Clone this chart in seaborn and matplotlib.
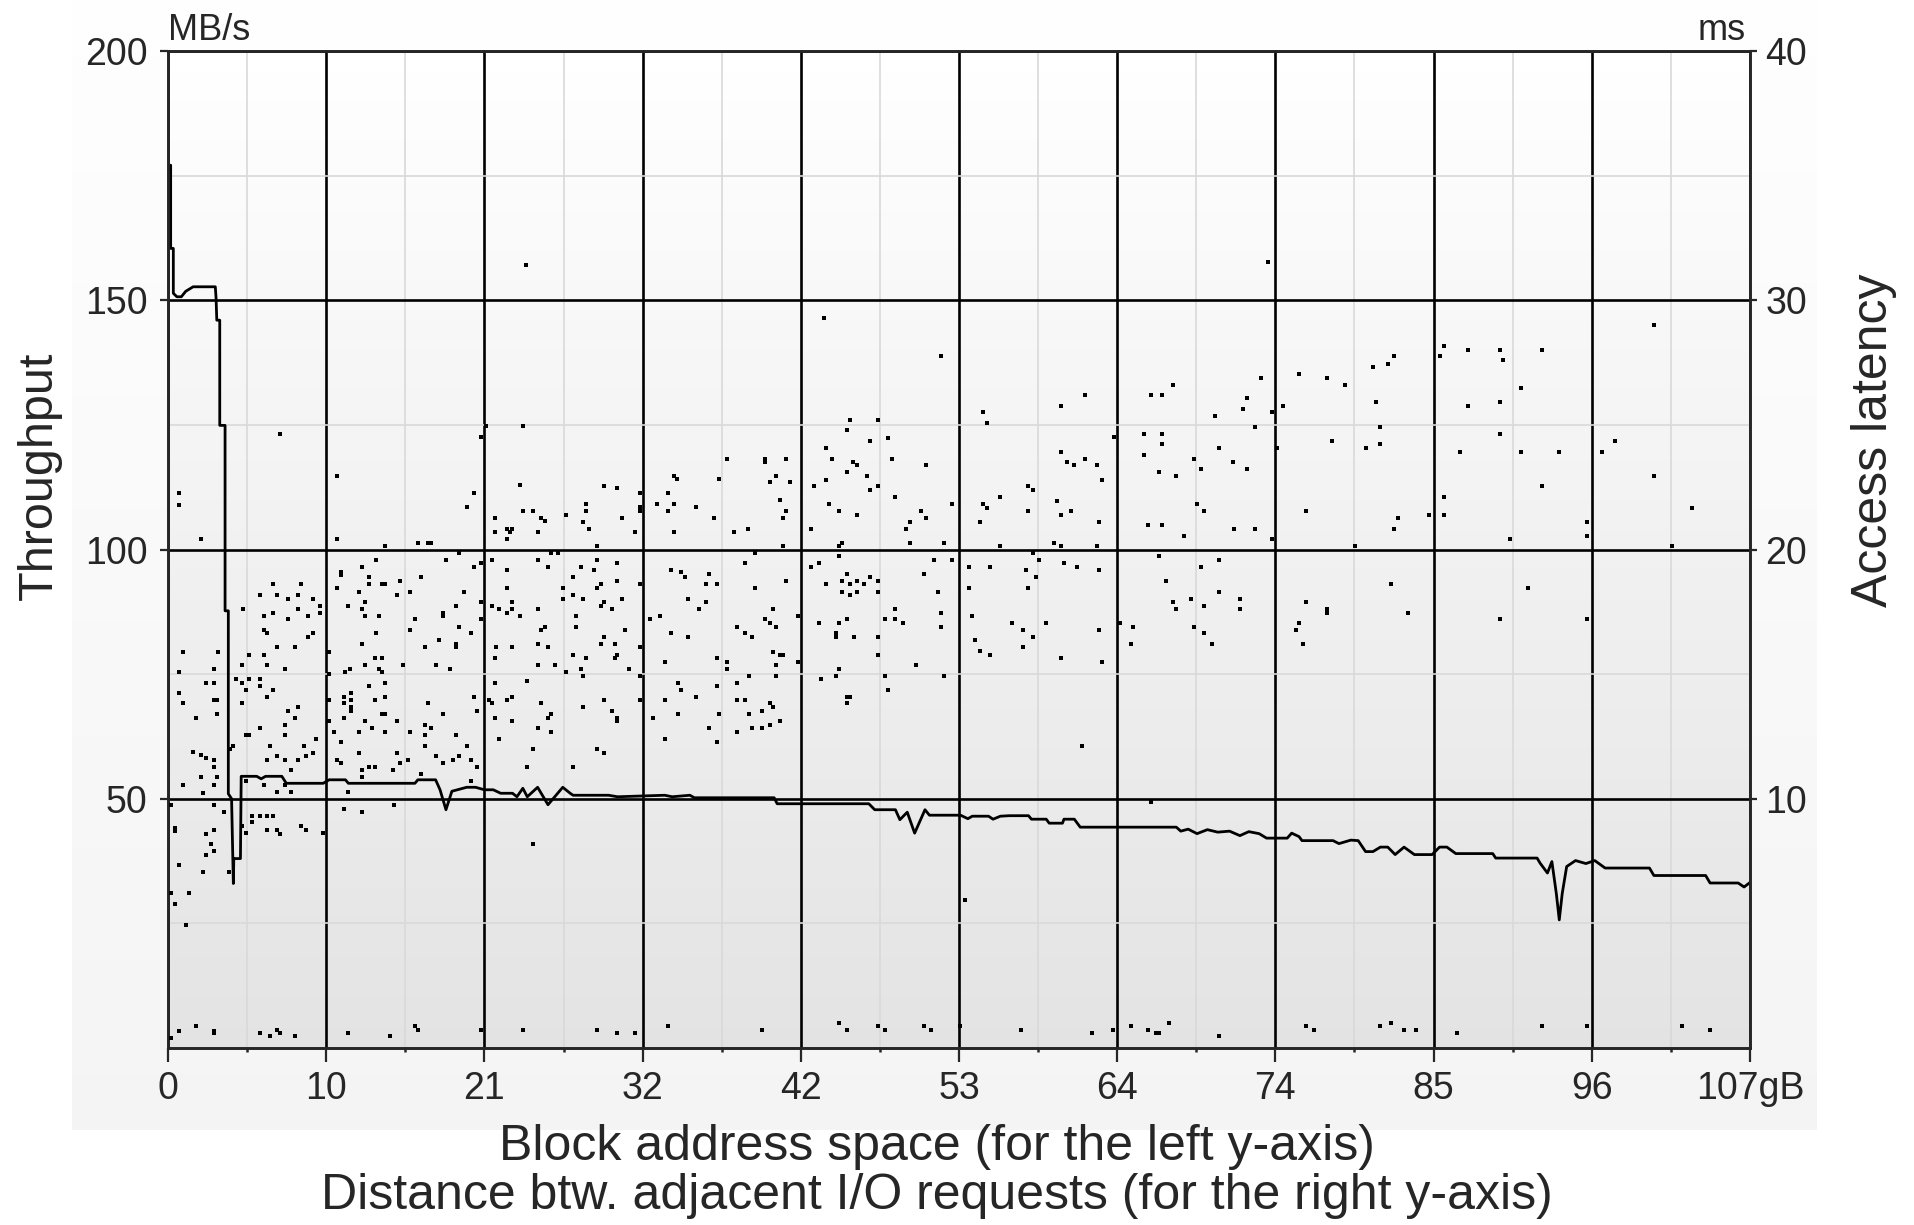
import numpy as np
import pandas as pd
import seaborn as sns
import matplotlib.pyplot as plt
from matplotlib.colors import to_rgb

sns.set_style('ticks')
plt.rcParams['font.family'] = ['Liberation Sans', 'DejaVu Sans']

# x axis: 0..107 GB split in ten equal steps, labels rounded down by the tool
x_max = 107
x_tick_labels = ['0', '10', '21', '32', '42', '53', '64', '74', '85', '96', '107gB']
left_ticks = [50, 100, 150, 200]
right_ticks = [10, 20, 30, 40]

# throughput curve (GB, MB/s)
tp_gb = [0.18, 0.18, 0.36, 0.36, 0.6, 0.9, 1.2, 1.7, 3.2, 3.25, 3.3, 3.5, 3.5, 3.86, 3.86, 4.08, 4.08,
         4.3, 4.42, 4.45, 4.9, 4.95, 6.0, 6.3, 6.6, 7.7, 8.0, 10.5, 10.9, 12.0, 12.2, 16.7, 16.9, 18.1,
         18.4, 18.8, 19.2, 20.2, 20.8, 21.4, 22.0, 22.5, 23.3, 23.6, 24.0, 24.3, 25.0, 25.7, 26.7, 27.2,
         27.4, 29.8, 30.4, 33.6, 34.1, 35.3, 35.6, 41.0, 41.2, 47.4, 47.8, 49.2, 49.5, 50.0, 50.5, 51.2,
         51.5, 53.6, 54.1, 54.4, 55.5, 55.8, 56.3, 56.9, 58.2, 58.4, 59.4, 59.6, 60.5, 60.6, 61.3, 61.7,
         68.2, 68.5, 69.0, 69.6, 70.3, 71.0, 71.8, 72.5, 73.1, 73.8, 74.3, 75.7, 76.0, 76.5, 76.7, 78.8,
         79.2, 80.0, 80.5, 81.0, 81.5, 82.0, 82.5, 83.0, 83.6, 84.3, 85.5, 86.0, 86.5, 87.1, 89.6, 89.8,
         92.6, 92.8, 93.3, 93.6, 93.9, 94.1, 94.3, 94.6, 95.2, 95.9, 96.5, 97.2, 100.2, 100.5, 104.0,
         104.3, 106.2, 106.6, 107.0]
tp_mbs = [177.1, 160.4, 160.4, 151.4, 150.7, 150.7, 151.8, 152.7, 152.7, 150.5, 146.0, 146.0, 124.9,
          124.9, 87.7, 87.7, 51.0, 50.0, 33.0, 38.0, 38.0, 54.5, 54.5, 54.0, 54.5, 54.5, 53.1, 53.1, 53.8,
          53.8, 53.1, 53.1, 53.8, 53.8, 51.8, 47.8, 51.5, 52.3, 52.3, 51.8, 51.8, 51.1, 51.1, 50.4, 52.1,
          50.4, 52.3, 48.8, 52.3, 51.1, 50.7, 50.7, 50.4, 50.7, 50.4, 50.7, 50.2, 50.2, 49.0, 49.0, 47.8,
          47.8, 45.8, 47.3, 43.1, 47.8, 46.7, 46.7, 46.0, 46.5, 46.5, 45.9, 46.5, 46.6, 46.6, 45.9, 45.9,
          45.1, 45.1, 45.9, 45.9, 44.3, 44.3, 43.5, 43.9, 43.0, 43.8, 43.3, 43.5, 42.6, 43.4, 43.0, 42.1,
          42.1, 43.1, 42.4, 41.6, 41.6, 41.0, 41.7, 41.6, 39.4, 39.4, 40.3, 40.3, 38.8, 40.3, 38.8, 38.8,
          40.3, 40.3, 39.0, 39.0, 38.1, 38.1, 37.1, 35.1, 37.4, 31.0, 25.7, 31.0, 36.4, 37.6, 37.0, 37.6,
          36.1, 36.1, 34.6, 34.6, 33.1, 33.1, 32.3, 33.2]

lat_high = [(24.2, 31.4), (44.4, 29.3), (52.3, 27.75), (74.4, 31.54), (100.5, 29.0), (86.3, 28.15),
            (86.0, 27.75), (87.9, 28.02), (90.1, 28.02), (92.9, 28.02), (90.3, 27.59), (82.9, 27.75),
            (82.5, 27.46), (81.5, 27.33), (76.5, 27.03), (78.4, 26.9), (79.6, 26.6), (73.9, 26.9),
            (68.0, 26.6), (66.5, 26.19), (67.2, 26.19), (62.0, 26.19), (60.4, 25.77), (55.1, 25.5),
            (55.4, 25.07), (91.5, 26.47), (87.9, 25.77), (90.1, 25.9), (81.7, 25.9), (75.4, 25.77),
            (74.7, 25.5), (73.0, 26.06), (72.7, 25.63), (70.8, 25.35), (73.5, 24.92), (82.0, 24.92),
            (82.0, 24.22), (81.0, 24.08), (78.7, 24.36), (90.1, 24.64), (87.4, 23.93), (91.5, 23.93),
            (94.1, 23.93), (97.0, 23.93), (97.9, 24.36), (100.5, 22.95), (92.9, 22.54), (86.3, 22.1),
            (86.3, 21.4), (85.3, 21.4), (103.1, 21.68), (96.0, 21.1), (96.0, 20.55), (90.8, 20.43),
            (83.2, 21.27), (82.9, 20.84), (75.0, 24.08), (74.7, 20.43), (77.0, 21.55), (72.1, 20.84),
            (73.5, 20.84), (68.7, 20.55), (66.3, 20.98), (67.2, 20.98), (69.4, 23.65), (69.9, 23.23),
            (72.0, 23.5), (73.0, 23.23), (71.1, 24.08), (66.0, 24.64), (67.2, 24.64), (67.2, 24.22),
            (66.0, 23.8), (67.0, 23.1), (68.2, 22.95), (69.6, 21.83), (70.1, 21.55), (64.0, 24.5),
            (60.4, 23.93), (60.8, 23.5), (61.3, 23.38), (62.0, 23.65), (62.8, 23.38), (63.2, 22.8),
            (58.2, 22.54), (58.5, 22.4), (56.3, 22.1), (55.1, 21.83), (55.4, 21.68), (58.2, 21.55),
            (60.1, 21.96), (61.1, 21.55), (60.4, 21.4), (54.9, 21.12), (63.0, 21.12), (59.9, 20.28),
            (56.3, 20.15), (60.4, 20.15), (62.8, 20.15), (80.3, 20.15), (101.7, 20.15)]

lat_mid_left = [(7.6, 24.65), (0.76, 22.25), (0.76, 21.8), (2.2, 20.43), (11.4, 22.95), (11.4, 20.43),
                (14.7, 20.15), (16.9, 20.28), (17.6, 20.28), (17.8, 20.28), (21.5, 24.95), (21.2, 24.5),
                (24.0, 24.95), (20.7, 22.25), (20.2, 21.7), (23.8, 22.6), (24.0, 21.55), (24.7, 21.55),
                (25.2, 21.27), (25.5, 21.15), (22.1, 21.27), (22.1, 20.7), (22.9, 20.84), (23.1, 20.7),
                (23.3, 20.84), (22.9, 20.43), (25.0, 20.7), (26.9, 21.4), (28.3, 21.83), (28.3, 21.55),
                (28.1, 21.12), (28.5, 20.84), (29.5, 22.54), (30.4, 22.45), (30.7, 21.27), (31.6, 20.7),
                (29.0, 20.15), (31.9, 22.25), (31.9, 21.7), (31.9, 21.55), (33.8, 22.25), (33.1, 21.83),
                (34.2, 21.83), (33.8, 21.55), (34.4, 22.83), (34.2, 22.95), (35.7, 21.7), (34.2, 20.7),
                (36.9, 21.27), (37.3, 22.83), (37.8, 23.65), (38.3, 20.7), (39.2, 20.84), (40.4, 23.65),
                (40.4, 23.5), (41.8, 23.65), (41.1, 22.95), (40.7, 22.7), (42.1, 22.7), (41.4, 21.98),
                (41.8, 21.55), (41.6, 21.27), (41.6, 20.15), (46.1, 25.2), (48.0, 25.2), (45.9, 24.8),
                (47.5, 24.36), (48.7, 24.49), (44.5, 24.08), (44.9, 23.65), (46.3, 23.5), (46.6, 23.38),
                (49.0, 23.65), (51.3, 23.38), (45.9, 23.1), (43.7, 22.54), (44.5, 22.8), (47.3, 22.95),
                (47.5, 22.4), (48.0, 22.54), (49.2, 22.1), (44.7, 21.83), (45.4, 21.55), (46.6, 21.4),
                (43.5, 20.84), (50.9, 21.55), (51.3, 21.27), (50.2, 21.12), (49.9, 20.84), (53.0, 21.83),
                (52.5, 20.28), (45.6, 20.28), (45.4, 20.15), (50.2, 20.28)]

lat_band_16_20 = [(5.1, 17.6), (6.2, 18.17), (7.1, 18.6), (7.4, 18.17), (8.1, 18.03), (9.0, 18.6),
                  (8.8, 18.17), (9.8, 18.03), (10.3, 17.75), (10.3, 17.47), (6.5, 17.33), (7.1, 17.47),
                  (8.1, 17.2), (8.8, 17.6), (9.5, 17.33), (6.5, 16.76), (6.7, 16.63), (9.8, 16.63),
                  (9.5, 16.5), (7.4, 16.07), (8.6, 16.07), (11.7, 19.1), (11.7, 18.96), (13.1, 19.3),
                  (14.1, 19.57), (13.6, 18.88), (13.6, 18.6), (14.5, 18.6), (14.7, 18.6), (15.7, 18.73),
                  (17.1, 18.88), (11.4, 18.45), (12.9, 18.3), (15.5, 18.17), (16.4, 18.3), (12.2, 17.75),
                  (13.3, 17.89), (13.1, 17.6), (13.3, 17.33), (14.3, 17.33), (14.1, 16.63), (16.4, 16.76),
                  (16.7, 17.2), (18.6, 17.47), (18.6, 17.33), (19.5, 17.75), (20.0, 18.3), (18.8, 19.57),
                  (19.7, 19.86), (20.7, 19.3), (21.2, 19.44), (21.2, 17.89), (21.2, 17.2), (19.7, 16.9),
                  (20.5, 16.63), (18.3, 16.36), (19.5, 16.2), (19.5, 16.07), (13.1, 16.2), (17.4, 16.07),
                  (21.9, 19.57), (22.9, 19.16), (22.9, 18.45), (21.9, 17.75), (22.4, 17.6), (23.3, 17.89),
                  (23.3, 17.6), (22.9, 17.47), (23.8, 17.33), (25.0, 19.57), (25.7, 19.3), (25.0, 17.6),
                  (25.5, 16.9), (25.2, 16.76), (25.0, 16.2), (25.7, 16.07), (23.3, 16.07), (22.2, 16.07),
                  (25.9, 19.86), (26.4, 19.86), (27.4, 18.88), (27.9, 19.3), (28.8, 19.16), (29.0, 19.58),
                  (29.0, 18.45), (29.3, 18.6), (26.7, 18.45), (26.7, 18.03), (27.4, 18.17), (28.1, 18.03),
                  (29.3, 17.75), (29.5, 17.89), (30.0, 17.6), (27.6, 17.33), (27.6, 16.9), (30.4, 19.44),
                  (30.4, 18.73), (30.7, 18.03), (30.9, 16.76), (29.5, 16.5), (29.3, 16.2), (30.2, 16.2),
                  (31.9, 18.6), (31.9, 16.07), (34.0, 19.16), (34.7, 19.09), (35.0, 18.88), (36.6, 19.03),
                  (36.4, 18.6), (37.1, 18.6), (35.2, 18.03), (36.4, 17.89), (35.9, 17.6), (32.6, 17.2),
                  (33.3, 17.33), (34.0, 16.63), (35.2, 16.5), (39.0, 19.44), (39.7, 19.86), (39.7, 18.45),
                  (41.8, 18.73), (40.9, 17.6), (40.4, 17.2), (40.7, 17.05), (41.1, 16.9), (38.5, 16.9),
                  (39.0, 16.63), (39.5, 16.5), (42.6, 17.33), (43.5, 19.3), (44.0, 19.44), (45.4, 19.72),
                  (44.5, 18.6), (45.9, 19.03), (45.6, 18.73), (46.1, 18.6), (46.6, 18.73), (47.1, 18.6),
                  (47.5, 18.88), (48.0, 18.73), (45.6, 18.3), (46.1, 18.17), (46.6, 18.3), (48.0, 18.3),
                  (44.0, 17.05), (45.4, 17.05), (45.9, 17.2), (45.2, 16.63), (45.2, 16.5), (46.4, 16.5),
                  (48.0, 16.5), (48.5, 17.2), (49.2, 17.6), (49.2, 17.2), (49.7, 17.05), (51.1, 19.03),
                  (51.8, 19.58), (53.0, 19.58), (52.1, 18.3), (52.3, 17.47), (52.3, 16.9),
                  (54.2, 19.3), (55.6, 19.3), (58.0, 19.16), (58.7, 18.88), (58.9, 19.58), (60.6, 19.44),
                  (61.5, 19.3), (63.0, 19.16), (58.5, 19.86), (54.2, 18.45), (58.2, 18.45), (54.4, 17.33),
                  (57.1, 17.05), (57.8, 16.76), (58.5, 16.5), (59.4, 17.05), (63.0, 16.76), (54.6, 16.36),
                  (57.8, 16.07), (64.4, 17.05), (65.3, 16.9), (65.1, 16.2), (67.0, 19.72), (69.9, 19.3),
                  (71.1, 19.58), (67.5, 18.73), (68.0, 17.89), (68.2, 17.6), (69.2, 18.03), (70.1, 17.75),
                  (71.1, 18.3), (72.5, 18.03), (72.5, 17.6), (69.4, 16.9), (70.1, 16.63), (70.6, 16.2),
                  (77.0, 17.89), (78.4, 17.6), (78.4, 17.47), (76.5, 17.05), (76.3, 16.76), (76.8, 16.2),
                  (82.7, 18.6), (83.9, 17.47), (92.0, 18.45), (90.1, 17.2), (96.0, 17.2)]

lat_band_10_16 = [(1.0, 15.9), (3.4, 15.9), (0.76, 15.08), (0.76, 14.24), (1.0, 13.84), (1.9, 13.25),
                  (3.1, 15.2), (2.6, 14.65), (3.1, 14.65), (3.1, 13.97), (3.3, 13.97), (3.3, 13.4),
                  (1.7, 11.89), (2.2, 11.75), (2.6, 11.62), (3.1, 11.56), (3.1, 11.27), (2.2, 10.86),
                  (1.0, 10.57), (3.1, 10.57), (3.3, 10.86), (2.4, 10.23), (5.5, 15.78), (6.5, 15.78),
                  (5.0, 15.36), (6.7, 15.36), (7.9, 15.2), (4.6, 14.8), (5.0, 14.65), (5.5, 14.8),
                  (6.2, 14.8), (5.3, 14.37), (6.2, 14.52), (7.1, 14.37), (6.7, 14.1), (5.0, 13.84),
                  (8.1, 13.54), (8.8, 13.68), (8.6, 13.25), (7.9, 12.95), (7.9, 12.55), (6.2, 12.82),
                  (5.5, 12.55), (5.3, 12.55), (6.9, 12.13), (9.2, 12.1), (10.0, 12.4), (9.8, 11.83),
                  (9.3, 11.7), (8.8, 11.56), (6.7, 11.56), (7.4, 11.7), (7.9, 11.56), (4.4, 12.13),
                  (4.2, 11.99), (8.3, 11.14), (6.5, 10.57), (7.9, 10.57), (7.4, 10.29), (8.3, 10.29),
                  (5.3, 10.72), (10.9, 15.9), (10.9, 14.99), (12.0, 15.08), (12.3, 15.2), (14.0, 15.64),
                  (14.5, 15.64), (14.3, 15.2), (14.5, 15.08), (13.3, 15.36), (15.9, 15.36), (18.1, 15.36),
                  (19.1, 15.2), (13.6, 14.52), (14.7, 14.65), (10.9, 13.97), (11.9, 14.1), (12.4, 14.24),
                  (12.4, 13.97), (12.4, 13.68), (12.4, 13.54), (11.9, 13.84), (14.0, 13.97), (14.7, 14.1),
                  (14.5, 13.4), (14.7, 13.4), (15.5, 13.12), (17.6, 13.84), (18.6, 13.4), (20.7, 14.1),
                  (20.9, 13.54), (10.9, 13.12), (11.9, 13.25), (13.3, 13.12), (13.8, 12.82), (11.2, 12.69),
                  (12.9, 12.69), (14.7, 12.69), (16.4, 12.69), (17.4, 12.95), (17.4, 12.55), (17.8, 12.82),
                  (17.4, 12.13), (19.5, 12.55), (20.2, 12.1), (11.7, 12.26), (12.9, 11.83), (11.4, 11.56),
                  (11.7, 11.43), (15.5, 11.83), (16.2, 11.56), (15.7, 11.43), (18.1, 11.7), (18.6, 11.43),
                  (19.3, 11.56), (19.7, 11.7), (20.5, 11.56), (20.9, 11.27), (13.1, 11.14), (13.6, 11.27),
                  (14.0, 11.27), (15.2, 11.14), (13.1, 10.86), (17.1, 11.0), (20.5, 10.72), (12.2, 10.29),
                  (22.1, 15.64), (22.1, 14.65), (24.3, 14.73), (25.0, 15.36), (26.2, 15.36), (26.9, 15.08),
                  (27.4, 15.78), (28.3, 15.64), (27.9, 15.2), (28.1, 14.93), (30.4, 15.78), (30.2, 15.64),
                  (31.2, 15.2), (21.7, 13.97), (21.9, 13.84), (22.9, 13.97), (23.3, 14.1), (25.2, 13.84),
                  (28.1, 13.68), (29.5, 13.97), (30.0, 13.54), (30.4, 13.25), (30.4, 13.12), (22.1, 13.25),
                  (23.3, 13.12), (25.9, 13.4), (25.7, 13.25), (25.0, 12.82), (25.9, 12.69), (22.4, 12.39),
                  (24.7, 11.99), (29.0, 11.99), (29.5, 11.83), (24.3, 11.27), (27.4, 11.27), (31.9, 14.93),
                  (31.9, 13.97), (33.6, 15.5), (34.5, 14.65), (34.7, 14.37), (35.7, 14.1), (33.6, 13.97),
                  (34.5, 13.4), (32.8, 13.25), (33.6, 12.39), (37.1, 15.64), (37.8, 15.5), (37.8, 15.2),
                  (38.5, 14.65), (39.3, 14.93), (37.1, 14.52), (38.5, 13.97), (39.0, 13.97), (40.7, 13.84),
                  (40.9, 13.68), (40.2, 13.54), (37.3, 13.4), (39.3, 13.4), (36.6, 12.82), (38.5, 12.69),
                  (39.5, 12.82), (40.2, 12.82), (40.7, 12.95), (41.4, 13.12), (37.1, 12.26), (40.9, 15.9),
                  (41.4, 15.78), (41.6, 15.78), (41.1, 15.36), (41.1, 14.93), (42.6, 15.5), (45.4, 15.2),
                  (45.2, 14.93), (44.2, 14.8), (48.0, 15.78), (48.5, 14.93), (50.6, 15.36), (52.5, 14.93),
                  (48.7, 14.37), (45.9, 14.1), (46.1, 14.1), (45.9, 13.84), (54.9, 15.91), (55.6, 15.78),
                  (60.4, 15.64), (63.2, 15.49), (61.8, 12.1)]

lat_low = [(0.2, 9.75), (3.1, 9.75), (3.8, 9.45), (0.5, 8.82), (0.5, 8.69), (3.1, 8.76), (2.6, 8.6),
           (2.9, 8.18), (3.1, 7.9), (2.6, 7.76), (0.76, 7.33), (2.4, 7.06), (0.2, 6.22), (1.45, 6.22),
           (0.5, 5.79), (1.2, 4.95), (4.1, 7.06), (5.7, 9.32), (6.2, 9.32), (6.7, 9.32), (7.1, 9.32),
           (5.7, 9.05), (5.0, 8.89), (5.3, 8.62), (6.7, 8.76), (7.4, 8.76), (7.6, 8.6), (9.0, 8.89),
           (9.3, 8.76), (10.5, 8.62), (11.9, 9.58), (13.1, 9.45), (15.3, 9.75), (24.7, 8.18),
           (66.5, 9.88), (53.9, 5.92)]

lat_floor = [(0.2, 0.4), (0.76, 0.67), (1.9, 0.87), (3.1, 0.67), (3.1, 0.6), (6.2, 0.6), (6.9, 0.47),
             (7.4, 0.73), (7.6, 0.6), (8.6, 0.47), (12.2, 0.6), (15.0, 0.47), (16.7, 0.87), (16.9, 0.73),
             (21.2, 0.73), (24.0, 0.73), (29.0, 0.73), (30.4, 0.6), (31.6, 0.6), (33.8, 0.87),
             (40.2, 0.73), (45.4, 1.0), (45.9, 0.73), (48.0, 0.87), (48.5, 0.73), (51.1, 0.87),
             (51.6, 0.73), (53.6, 0.87), (57.7, 0.73), (62.5, 0.6), (63.9, 0.73), (65.1, 0.87),
             (66.3, 0.73), (66.8, 0.6), (67.0, 0.6), (67.7, 1.0), (71.1, 0.47), (77.0, 0.87),
             (77.5, 0.73), (82.0, 0.87), (82.7, 1.0), (83.6, 0.73), (84.4, 0.73), (87.2, 0.6),
             (92.9, 0.87), (96.0, 0.87), (102.4, 0.87), (104.3, 0.73)]

tp = pd.DataFrame({'gb': tp_gb, 'mbs': tp_mbs})
lat = pd.DataFrame(lat_high + lat_mid_left + lat_band_16_20 + lat_band_10_16 + lat_low + lat_floor,
                   columns=['gb', 'ms'])


def blend(c_top, c_bottom, t):
    a, b = np.array(to_rgb(c_top)), np.array(to_rgb(c_bottom))
    return tuple(a + (b - a) * t)


W, H = 1914, 1225
fig = plt.figure(figsize=(W / 100, H / 100), dpi=100)

# faint panel behind the whole chart, lighter at the top
bg = fig.add_axes([72 / W, 1 - 1130 / H, (1817 - 72) / W, 1130 / H])
bg.set_xlim(0, 1)
bg.set_ylim(0, 1)
n_bg = 60
for i in range(n_bg):
    bg.axhspan(i / n_bg, (i + 1) / n_bg, color=blend('#fefefe', '#f4f4f4', 1 - (i + 0.5) / n_bg), lw=0)
bg.axis('off')

# plot area: white at the top fading to light grey at the bottom
ax = fig.add_axes([168 / W, 1 - 1048 / H, (1750 - 168) / W, (1048 - 51) / H])
n_bands = 100
for i in range(n_bands):
    lo, hi = 200 * i / n_bands, 200 * (i + 1) / n_bands
    ax.axhspan(lo, hi, color=blend('#ffffff', '#e3e3e3', 1 - (i + 0.5) / n_bands), lw=0, zorder=0)

step = x_max / 10
ax.set_xlim(0, x_max)
ax.set_ylim(0, 200)
ax.set_xticks([i * step for i in range(11)])
ax.set_xticklabels(x_tick_labels)
ax.set_xticks([step / 2 + i * step for i in range(10)], minor=True)
ax.set_yticks(left_ticks)
ax.set_yticks([25, 75, 125, 175], minor=True)
ax.grid(which='major', color='black', linewidth=1.9)
ax.grid(which='minor', color='#d9d9d9', linewidth=1.2)
ax.set_axisbelow(True)
for s in ax.spines.values():
    s.set_linewidth(1.9)
ax.tick_params(axis='x', which='major', length=9.8, width=1.6, pad=7, labelsize=27)
ax.tick_params(axis='x', which='minor', length=3, width=1.8)
ax.tick_params(axis='y', which='major', length=5.8, width=1.6, pad=9, labelsize=27)
ax.tick_params(axis='y', which='minor', length=0)

sns.lineplot(data=tp, x='gb', y='mbs', ax=ax, sort=False, estimator=None,
             color='black', linewidth=2.0, zorder=3)
ax.set_xlabel('')
ax.set_ylabel('')

ax2 = ax.twinx()
sns.scatterplot(data=lat, x='gb', y='ms', ax=ax2, marker='s', s=10, color='black',
                linewidth=0, zorder=4)
ax2.set_ylim(0, 40)
ax2.set_xlim(0, x_max)
ax2.set_yticks(right_ticks)
ax2.set_xlabel('')
ax2.set_ylabel('')
ax2.tick_params(axis='y', length=5, width=1.6, pad=6, labelsize=27)
for s in ax2.spines.values():
    s.set_linewidth(1.9)

ax.text(0.0, 1.011, 'MB/s', transform=ax.transAxes, ha='left', va='baseline', fontsize=26)
ax.text(0.997, 1.011, 'ms', transform=ax.transAxes, ha='right', va='baseline', fontsize=26)

fig.text(39 / W, 1 - 476 / H, 'Throughput', rotation=90, ha='center', va='center', fontsize=35)
fig.text(1874 / W, 1 - 440 / H, 'Access latency', rotation=90, ha='center', va='center', fontsize=36)
fig.text(937 / W, 1 - 1147 / H, 'Block address space (for the left y-axis)',
         ha='center', va='center', fontsize=36)
fig.text(937 / W, 1 - 1196 / H, 'Distance btw. adjacent I/O requests (for the right y-axis)',
         ha='center', va='center', fontsize=36)

fig.savefig('out.png', dpi=100)
